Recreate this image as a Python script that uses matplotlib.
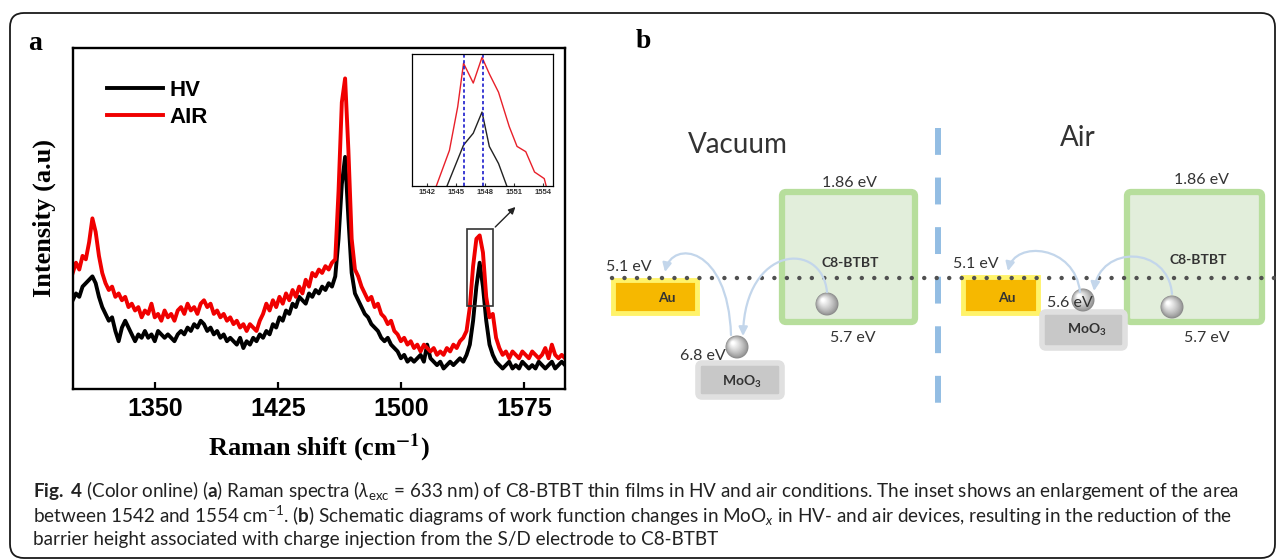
import numpy as np
import matplotlib.pyplot as plt
from matplotlib.patches import FancyBboxPatch, Rectangle, Circle, FancyArrowPatch
from matplotlib.path import Path
from matplotlib.colors import to_rgb

plt.rcParams['mathtext.fontset'] = 'custom'
plt.rcParams['mathtext.rm'] = 'Lato'
plt.rcParams['mathtext.it'] = 'Lato:italic'
plt.rcParams['mathtext.bf'] = 'Lato:bold'

# ---- panel a: Raman spectra (arbitrary units) ----
raman_shift = np.arange(1300, 1601, 2)
hv = [0.26, 0.28, 0.27, 0.30, 0.31, 0.32, 0.33, 0.31, 0.27, 0.24,
      0.22, 0.20, 0.21, 0.17, 0.14, 0.18, 0.20, 0.18, 0.16, 0.14,
      0.16, 0.15, 0.17, 0.15, 0.16, 0.14, 0.17, 0.16, 0.15, 0.16,
      0.15, 0.14, 0.16, 0.17, 0.16, 0.18, 0.17, 0.19, 0.18, 0.20,
      0.19, 0.17, 0.18, 0.16, 0.17, 0.15, 0.16, 0.14, 0.15, 0.14,
      0.13, 0.15, 0.12, 0.14, 0.13, 0.15, 0.14, 0.16, 0.15, 0.17,
      0.16, 0.19, 0.18, 0.21, 0.20, 0.23, 0.22, 0.25, 0.24, 0.27,
      0.26, 0.25, 0.28, 0.27, 0.29, 0.28, 0.30, 0.29, 0.31, 0.30,
      0.33, 0.44, 0.60, 0.68, 0.50, 0.34, 0.28, 0.26, 0.24, 0.22,
      0.21, 0.19, 0.18, 0.17, 0.15, 0.14, 0.15, 0.13, 0.12, 0.11,
      0.09, 0.10, 0.08, 0.09, 0.08, 0.09, 0.10, 0.08, 0.13, 0.09,
      0.08, 0.07, 0.08, 0.06, 0.07, 0.08, 0.07, 0.08, 0.09, 0.08,
      0.10, 0.13, 0.20, 0.30, 0.37, 0.30, 0.20, 0.13, 0.10, 0.08,
      0.07, 0.06, 0.07, 0.08, 0.06, 0.07, 0.06, 0.08, 0.07, 0.06,
      0.07, 0.06, 0.08, 0.07, 0.06, 0.07, 0.08, 0.06, 0.07, 0.08,
      0.07]
air = [0.34, 0.37, 0.35, 0.39, 0.38, 0.43, 0.50, 0.46, 0.39, 0.34,
       0.31, 0.29, 0.30, 0.27, 0.28, 0.26, 0.27, 0.24, 0.25, 0.23,
       0.24, 0.21, 0.23, 0.22, 0.25, 0.21, 0.22, 0.20, 0.23, 0.21,
       0.22, 0.20, 0.23, 0.24, 0.22, 0.25, 0.23, 0.24, 0.22, 0.25,
       0.26, 0.24, 0.25, 0.22, 0.23, 0.21, 0.22, 0.20, 0.21, 0.19,
       0.20, 0.18, 0.19, 0.17, 0.19, 0.18, 0.17, 0.20, 0.22, 0.25,
       0.23, 0.26, 0.24, 0.27, 0.25, 0.28, 0.26, 0.29, 0.27, 0.30,
       0.28, 0.32, 0.30, 0.34, 0.33, 0.35, 0.34, 0.36, 0.35, 0.37,
       0.38, 0.58, 0.84, 0.91, 0.70, 0.44, 0.35, 0.33, 0.30, 0.28,
       0.26, 0.27, 0.24, 0.25, 0.22, 0.21, 0.19, 0.20, 0.17, 0.16,
       0.14, 0.15, 0.13, 0.14, 0.12, 0.13, 0.11, 0.13, 0.12, 0.11,
       0.12, 0.10, 0.11, 0.10, 0.12, 0.11, 0.13, 0.12, 0.14, 0.15,
       0.17, 0.24, 0.36, 0.44, 0.45, 0.40, 0.27, 0.21, 0.22, 0.15,
       0.12, 0.10, 0.11, 0.09, 0.11, 0.10, 0.09, 0.11, 0.10, 0.09,
       0.11, 0.10, 0.09, 0.10, 0.12, 0.09, 0.13, 0.10, 0.09, 0.10,
       0.09]
x_ticks = [1350, 1425, 1500, 1575]

# inset: the band near 1548 cm-1
inset_shift_air = [1543.0, 1544.35, 1545.2, 1545.8, 1546.8, 1547.7, 1548.45,
                   1549.4, 1550.5, 1551.3, 1552.2, 1553.1, 1554.1, 1554.3]
inset_air = [0.0, 0.27, 0.60, 0.93, 0.78, 0.975, 0.85,
             0.71, 0.45, 0.30, 0.26, 0.106, 0.056, 0.0]
inset_shift_hv = [1544.1, 1545.8, 1546.8, 1547.7, 1548.45, 1549.4, 1550.25]
inset_hv = [0.0, 0.31, 0.40, 0.56, 0.30, 0.17, 0.0]
inset_peaks = [1545.8, 1547.8]
inset_ticks = [1542, 1545, 1548, 1551, 1554]

# ---- panel b: energy diagram labels ----
sides = ['Vacuum', 'Air']
gap_label = '1.86 eV'
homo_label = '5.7 eV'
au_label = '5.1 eV'
moo3_levels = ['6.8 eV', '5.6 eV']

W, H = 1281, 559
fig = plt.figure(figsize=(W / 100, H / 100), dpi=100)

# full-figure canvas in pixel units (y down) for frame, schematic and caption
cv = fig.add_axes([0, 0, 1, 1])
cv.set_xlim(0, W)
cv.set_ylim(H, 0)
cv.axis('off')

cv.add_patch(FancyBboxPatch((10, 13), 1265, 545, boxstyle='round,pad=0,rounding_size=14',
                            fill=False, ec='#1a1a1a', lw=1.3))
cv.text(35, 43, 'a', fontfamily='Liberation Serif', fontweight='bold', fontsize=20,
        ha='center', va='center')
cv.text(643, 42, 'b', fontfamily='Liberation Serif', fontweight='bold', fontsize=20,
        ha='center', va='center')

# ---- panel a ----
ax = fig.add_axes([72.7 / W, 1 - 389 / H, (565 - 72.7) / W, (389 - 47.7) / H])
ax.plot(raman_shift, hv, color='black', lw=2.8, label='HV')
ax.plot(raman_shift, air, color='#f00000', lw=2.8, label='AIR')
ax.set_xlim(1300, 1600)
ax.set_ylim(0, 1)
ax.set_xticks(x_ticks)
ax.set_yticks([])
ax.tick_params(axis='x', direction='in', length=5, width=1.6, pad=6, labelsize=18)
for t in ax.get_xticklabels():
    t.set_fontfamily('Liberation Sans')
    t.set_fontweight('bold')
for s in ax.spines.values():
    s.set_linewidth(1.7)
ax.set_xlabel(r'Raman shift (cm$^{\mathbf{-1}}$)', fontfamily='Liberation Serif',
              fontweight='bold', fontsize=19, math_fontfamily='stix')
ax.xaxis.set_label_coords(0.5, -0.125)
ax.set_ylabel('Intensity (a.u)', fontfamily='Liberation Serif', fontweight='bold', fontsize=19)
ax.yaxis.set_label_coords(-0.034, 0.5)
ax.legend(loc='upper left', bbox_to_anchor=(0.07, 0.905), frameon=False, handlelength=2.5,
          handletextpad=0.3, labelspacing=0.25, borderpad=0, borderaxespad=0,
          prop={'family': 'Liberation Sans', 'weight': 'bold', 'size': 16})

ax.add_patch(Rectangle((1540.5, 0.243), 15.8, 0.226, fill=False, ec='#333333', lw=1.2, zorder=5))
ax.annotate('', xy=(1571, 0.539), xytext=(1556.3, 0.469),
            arrowprops=dict(arrowstyle='-|>', color='#222222', lw=1.0, mutation_scale=10))

axin = fig.add_axes([412 / W, 1 - 186 / H, 141 / W, 132 / H])
axin.plot(inset_shift_hv, inset_hv, color='#222222', lw=1.0)
axin.plot(inset_shift_air, inset_air, color='#e8202a', lw=1.0)
for p in inset_peaks:
    axin.axvline(p, color='#1a1acc', ls=(0, (2, 1.5)), lw=1.2)
axin.set_xlim(1540.5, 1555)
axin.set_ylim(0, 1)
axin.set_xticks(inset_ticks)
axin.set_yticks([])
axin.tick_params(direction='in', length=2.5, width=0.8, labelsize=5.5, pad=2, colors='#333333')
for t in axin.get_xticklabels():
    t.set_fontfamily('Liberation Sans')
    t.set_fontweight('bold')
for s in axin.spines.values():
    s.set_linewidth(0.9)

# ---- panel b ----
txt = dict(fontfamily='Lato', color='#333333', ha='center', va='center')


def sphere(x, y, r):
    dark, light = np.array(to_rgb('#8c8c8c')), np.array(to_rgb('#ffffff'))
    for f in np.linspace(0, 1, 14):
        c = dark + (light - dark) * f ** 0.8
        cv.add_patch(Circle((x - 0.35 * r * f, y - 0.35 * r * f), r * (1 - 0.85 * f),
                            color=c, lw=0, zorder=6))


def hop(pts):
    path = Path(pts, [Path.MOVETO, Path.CURVE4, Path.CURVE4, Path.CURVE4])
    cv.add_patch(FancyArrowPatch(path=path, arrowstyle='-|>', mutation_scale=13,
                                 color='#c3d6eb', lw=1.6, zorder=7))


# blue divider and Fermi-level dots
cv.plot([938, 938], [128, 410], color='#93bde3', lw=4.3, ls=(0, (4.5, 3.8)), solid_capstyle='butt')
cv.plot([612, 1278], [278, 278], color='#505050', lw=3.2, ls=(0, (0.01, 2.8)),
        dash_capstyle='round', zorder=5)

# C8-BTBT boxes
for x0, x1 in [(782, 915), (1127, 1262)]:
    cv.add_patch(FancyBboxPatch((x0, 192), x1 - x0, 130, boxstyle='round,pad=0,rounding_size=4',
                                fc='#e2eedb', ec='#b7de9c', lw=4.5, zorder=2))
# Au electrodes
for x0, x1, y0 in [(613, 697, 280), (963, 1038, 277)]:
    cv.add_patch(Rectangle((x0, y0), x1 - x0, 313 - y0, fc='#f6b800', ec='#fff36a', lw=3.5, zorder=3))
# MoO3 blocks
for x0, x1, y0, y1 in [(698, 782, 363, 397), (1042, 1125, 312, 348)]:
    cv.add_patch(FancyBboxPatch((x0, y0), x1 - x0, y1 - y0, boxstyle='round,pad=0,rounding_size=4',
                                fc='#c8c8c8', ec='#e0e0e0', lw=4, zorder=3))

cv.text(738, 145, sides[0], fontsize=20, **txt)
cv.text(1078, 138, sides[1], fontsize=20, **txt)
for xc, yc in [(850, 183), (1202, 180)]:
    cv.text(xc, yc, gap_label, fontsize=11.5, **txt)
for xc, yc in [(850, 263), (1198, 260)]:
    cv.text(xc, yc, 'C8-BTBT', fontsize=10, fontweight='bold', **txt)
for xc, yc in [(853, 338), (1207, 338)]:
    cv.text(xc, yc, homo_label, fontsize=11.5, **txt)
for xc, yc in [(629, 267), (976, 264)]:
    cv.text(xc, yc, au_label, fontsize=11.5, zorder=8, **txt)
for xc, yc in [(667, 298), (1007, 298)]:
    cv.text(xc, yc, 'Au', fontsize=10, fontweight='bold', zorder=8, **txt)
for xc, yc in [(742, 382), (1087, 330)]:
    cv.text(xc, yc, r'MoO$_\mathbf{3}$', fontsize=10, fontweight='bold', zorder=8, **txt)

sphere(827, 304, 11.5)
sphere(737, 347, 11.5)
sphere(1172, 307, 11.5)
sphere(1083, 300, 11.5)
cv.text(703, 356, moo3_levels[0], fontsize=11.5, zorder=8, **txt)
cv.text(1070, 303, moo3_levels[1], fontsize=11.5, zorder=8, **txt)

hop([(827, 292), (822, 240), (745, 245), (743, 336)])
hop([(731, 335), (728, 245), (672, 240), (665, 272)])
hop([(1172, 294), (1168, 245), (1100, 245), (1094, 291)])
hop([(1080, 292), (1075, 245), (1015, 240), (1008, 271)])

# ---- caption ----
cap = dict(fontfamily='Lato', fontsize=13.6, color='#222222', va='center', ha='left')
cv.text(33, 491, r'$\bf{Fig.}$ $\bf{4}$ (Color online) ($\bf{a}$) Raman spectra ($\lambda_{\rm exc}$ = 633 nm) '
        'of C8-BTBT thin films in HV and air conditions. The inset shows an enlargement of the area',
        **cap)
cv.text(33, 516, r'between 1542 and 1554 cm$^{-1}$. ($\bf{b}$) Schematic diagrams of work function '
        r'changes in MoO$_{x}$ in HV- and air devices, resulting in the reduction of the', **cap)
cv.text(33, 540, 'barrier height associated with charge injection from the S/D electrode to C8-BTBT',
        **cap)

fig.savefig('out.png', dpi=100)
